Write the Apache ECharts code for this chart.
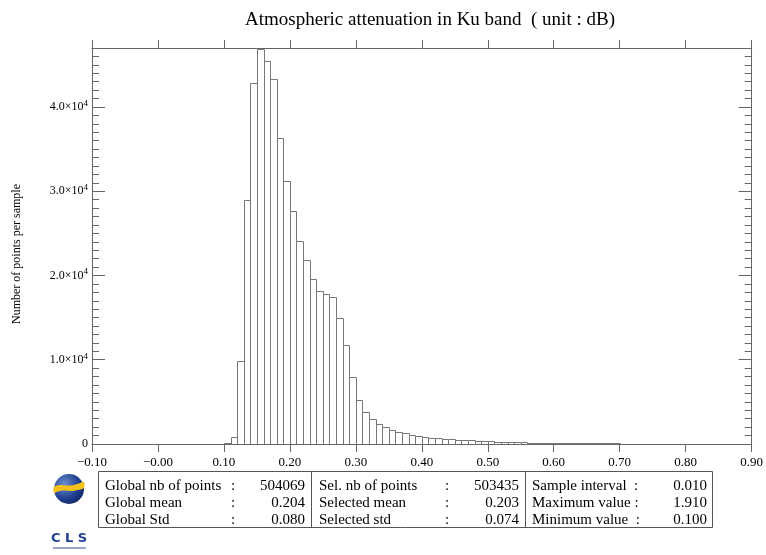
<!DOCTYPE html>
<html>
<head>
<meta charset="utf-8">
<script src="https://cdn.jsdelivr.net/npm/echarts@6/dist/echarts.min.js"></script>
<style>
html,body{margin:0;padding:0;background:#fff;}
#chart{width:766px;height:555px;}
</style>
</head>
<body>
<div id="chart"></div>
<script>
// ---- data ----
const chartTitle = 'Atmospheric attenuation in Ku band  ( unit : dB)';
const yAxisName = 'Number of points per sample';
const binWidth = 0.01;
const binStarts = [];
for (let i = 0; i < 80; i++) binStarts.push(+(0.10 + i * 0.01).toFixed(2));
const binCounts = [
  100, 850, 9800, 29000, 42850, 46900, 45500, 43300, 36300, 31200,
  27600, 24100, 21800, 19600, 18100, 17800, 17500, 15000, 11800, 7900,
  5200, 3800, 3000, 2400, 2000, 1650, 1450, 1250, 1090, 970,
  890, 760, 690, 620, 570, 500, 450, 420, 380, 340,
  300, 270, 250, 230, 210, 190, 175, 160, 145, 135,
  125, 115, 105, 97, 90, 83, 77, 71, 66, 61,
  56, 52, 48, 44, 41, 38, 35, 32, 30, 28,
  26, 24, 22, 20, 19, 17, 16, 15, 14, 13
];
const xTickLabels = ['\u22120.10', '\u22120.00', '0.10', '0.20', '0.30', '0.40', '0.50', '0.60', '0.70', '0.80', '0.90'];
const yTickMantissa = ['0', '1.0', '2.0', '3.0', '4.0'];
const statsCol1Labels = ['Global nb of points', 'Global mean', 'Global Std'];
const statsCol1Values = ['504069', '0.204', '0.080'];
const statsCol2Labels = ['Sel. nb of points', 'Selected mean', 'Selected std'];
const statsCol2Values = ['503435', '0.203', '0.074'];
const statsCol3Labels = ['Sample interval  :', 'Maximum value :', 'Minimum value  :'];
const statsCol3Values = ['0.010', '1.910', '0.100'];

// ---- chart ----
const FONT = '"Liberation Serif", "DejaVu Serif", serif';
const AX = '#666';
const chart = echarts.init(document.getElementById('chart'), null, {renderer: 'canvas'});

const seriesData = binStarts.map((x, i) => [x, binCounts[i]]);

const graphics = [];
// y axis name
graphics.push({
  type: 'text', x: 17, y: 254, rotation: Math.PI / 2,
  style: {text: yAxisName, font: '12px ' + FONT, fill: '#000', textAlign: 'center', textVerticalAlign: 'middle'}
});
// stats table
const boxL = 98.5, boxR = 712.5, boxT = 471.5, boxB = 527.5;
graphics.push({type: 'rect', shape: {x: boxL, y: boxT, width: boxR - boxL, height: boxB - boxT}, style: {fill: 'none', stroke: '#555', lineWidth: 1}});
graphics.push({type: 'line', shape: {x1: 311.5, y1: boxT, x2: 311.5, y2: boxB}, style: {stroke: '#555', lineWidth: 1}});
graphics.push({type: 'line', shape: {x1: 525.5, y1: boxT, x2: 525.5, y2: boxB}, style: {stroke: '#555', lineWidth: 1}});
const rowY = [486, 503, 520];
function txt(x, y, s, align) {
  graphics.push({type: 'text', x: x, y: y, style: {text: s, font: '15px ' + FONT, fill: '#000', textAlign: align || 'left', textVerticalAlign: 'middle'}});
}
for (let r = 0; r < 3; r++) {
  txt(105, rowY[r], statsCol1Labels[r]);
  txt(233, rowY[r], ':', 'center');
  txt(305, rowY[r], statsCol1Values[r], 'right');
  txt(319, rowY[r], statsCol2Labels[r]);
  txt(447, rowY[r], ':', 'center');
  txt(519, rowY[r], statsCol2Values[r], 'right');
  txt(532, rowY[r], statsCol3Labels[r]);
  txt(707, rowY[r], statsCol3Values[r], 'right');
}
// CLS logo
graphics.push({type: 'circle', shape: {cx: 69, cy: 489, r: 15}, style: {fill: {type: 'radial', x: 0.35, y: 0.35, r: 0.8, colorStops: [{offset: 0, color: '#6d8fd0'}, {offset: 0.6, color: '#1f3f8f'}, {offset: 1, color: '#0e1f5a'}]}}});
graphics.push({type: 'polygon', shape: {points: [[54, 487], [60, 485], [67, 485.5], [74, 485], [80, 483], [84, 482], [84, 488], [78, 490], [71, 491], [64, 490.5], [58, 491.5], [54, 493]], smooth: 0.3}, style: {fill: '#f2c21b'}});
graphics.push({type: 'text', x: 69, y: 539, style: {text: 'C L S', font: 'bold 13px "DejaVu Sans", sans-serif', fill: '#1f3f8f', textAlign: 'center', textVerticalAlign: 'middle'}});
graphics.push({type: 'rect', shape: {x: 53, y: 547, width: 33, height: 2}, style: {fill: '#9aa6c8'}});

const option = {
  backgroundColor: '#fff',
  animation: false,
  title: {
    text: chartTitle, left: 425, top: 6, textAlign: 'center',
    textStyle: {fontFamily: FONT, fontSize: 19, fontWeight: 'normal', color: '#000'}
  },
  grid: {left: 92, right: 14, top: 48, bottom: 111, containLabel: false},
  xAxis: [{
    type: 'value', min: -0.1, max: 0.9, interval: 0.1, position: 'bottom',
    axisLine: {show: true, onZero: false, lineStyle: {color: AX, width: 1}},
    axisTick: {show: true, inside: false, length: 8, lineStyle: {color: AX}},
    axisLabel: {
      margin: 12, fontFamily: FONT, fontSize: 13, color: '#000',
      formatter: v => xTickLabels[Math.round((v + 0.1) / 0.1)]
    },
    splitLine: {show: false}
  }, {
    type: 'value', min: -0.1, max: 0.9, interval: 0.1, position: 'top',
    axisLine: {show: true, onZero: false, lineStyle: {color: AX, width: 1}},
    axisTick: {show: true, inside: false, length: 8, lineStyle: {color: AX}},
    axisLabel: {show: false}, splitLine: {show: false}
  }],
  yAxis: [{
    type: 'value', min: 0, max: 47000, interval: 10000, position: 'left',
    axisLine: {show: true, onZero: false, lineStyle: {color: AX, width: 1}},
    axisTick: {show: true, inside: true, length: 13, lineStyle: {color: AX}},
    minorTick: {show: true, splitNumber: 10, length: 7, lineStyle: {color: AX}},
    axisLabel: {
      margin: 4, color: '#000', showMaxLabel: false,
      formatter: v => {
        if (v % 10000 !== 0) return '';
        const i = Math.round(v / 10000);
        if (i >= yTickMantissa.length) return '';
        return i === 0 ? '{m|0}' : '{m|' + yTickMantissa[i] + '×10}{e|4}';
      },
      rich: {
        m: {fontFamily: FONT, fontSize: 12, lineHeight: 16, color: '#000'},
        e: {fontFamily: FONT, fontSize: 9, lineHeight: 10, verticalAlign: 'top', color: '#000'}
      }
    },
    splitLine: {show: false}
  }, {
    type: 'value', min: 0, max: 47000, interval: 10000, position: 'right',
    axisLine: {show: true, onZero: false, lineStyle: {color: AX, width: 1}},
    axisTick: {show: true, inside: true, length: 13, lineStyle: {color: AX}},
    minorTick: {show: true, splitNumber: 10, length: 7, lineStyle: {color: AX}},
    axisLabel: {show: false}, splitLine: {show: false}
  }],
  series: [{
    type: 'custom',
    xAxisIndex: 0, yAxisIndex: 0,
    data: seriesData,
    clip: true,
    renderItem: function (params, api) {
      const x0 = api.value(0), v = api.value(1);
      const p0 = api.coord([x0, 0]);
      const p1 = api.coord([x0 + binWidth, v]);
      return {
        type: 'rect',
        shape: {x: Math.round(p0[0]) + 0.5, y: Math.round(p1[1]) + 0.5, width: Math.round(p1[0]) - Math.round(p0[0]), height: Math.round(p0[1]) - Math.round(p1[1])},
        style: {fill: '#fff', stroke: '#777', lineWidth: 1}
      };
    }
  }],
  graphic: graphics
};
chart.setOption(option);
</script>
</body>
</html>
